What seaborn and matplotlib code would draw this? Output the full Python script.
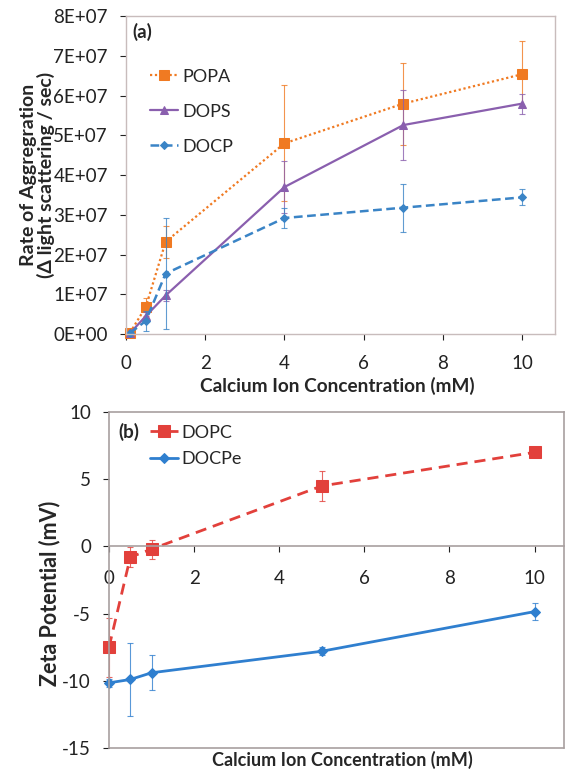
import numpy as np
import pandas as pd
import matplotlib
matplotlib.use('Agg')
import matplotlib.pyplot as plt
from matplotlib.ticker import FuncFormatter
import seaborn as sns

# Panel (a): rate of aggregation vs calcium
conc_a = [0.1, 0.5, 1, 4, 7, 10]
popa = [0.03e7, 0.68e7, 2.32e7, 4.8e7, 5.8e7, 6.54e7]
popa_err = [0.05e7, 0.22e7, 0.4e7, 1.46e7, 1.03e7, 0.83e7]
dops = [0.02e7, 0.45e7, 0.97e7, 3.7e7, 5.26e7, 5.8e7]
dops_err = [0.03e7, 0.1e7, 0.15e7, 0.66e7, 0.88e7, 0.25e7]
docp = [0.02e7, 0.33e7, 1.52e7, 2.92e7, 3.18e7, 3.44e7]
docp_err = [0.03e7, 0.25e7, 1.4e7, 0.24e7, 0.6e7, 0.2e7]

# Panel (b): zeta potential vs calcium
conc_b = [0, 0.5, 1, 5, 10]
dopc = [-7.5, -0.8, -0.2, 4.5, 7.0]
dopc_err = [2.2, 0.75, 0.7, 1.1, 0.25]
docpe = [-10.15, -9.9, -9.4, -7.8, -4.85]
docpe_err = [0.3, 2.7, 1.3, 0.3, 0.65]

sns.set_style('white')
plt.rcParams['font.family'] = ['Lato', 'DejaVu Sans']
plt.rcParams['axes.unicode_minus'] = False

fig = plt.figure(figsize=(5.69, 7.71), dpi=100)
ax1 = fig.add_axes([0.2214, 0.5668, 0.975 - 0.2214, 0.979 - 0.5668])
ax2 = fig.add_axes([0.1916, 0.0298, 0.991 - 0.1916, 0.4656 - 0.0298])

# (name, y, err, colour, linestyle, marker, markersize, linewidth)
series_a = [
    ('POPA', popa, popa_err, '#f07a22', (0, (1, 1.2)), 's', 7, 1.6),
    ('DOPS', dops, dops_err, '#8a5fae', '-', '^', 5.5, 1.6),
    ('DOCP', docp, docp_err, '#3a84c6', (0, (3.5, 1.8)), 'D', 4.5, 1.8),
]
for name, y, err, col, ls, mk, ms, lw in series_a:
    ax1.errorbar(conc_a, y, yerr=err, fmt='none', ecolor=col, elinewidth=0.8,
                 capsize=2, capthick=0.8, alpha=0.8, clip_on=False)
    sns.lineplot(x=conc_a, y=y, ax=ax1, color=col, linestyle=ls, marker=mk,
                 markersize=ms, markeredgecolor=col, linewidth=lw, label=name,
                 clip_on=False)

ax1.set_xlim(0, 10.82)
ax1.set_ylim(0, 8e7)
ax1.set_xticks([0, 2, 4, 6, 8, 10])
ax1.set_yticks(np.arange(0, 8.1e7, 1e7))
ax1.yaxis.set_major_formatter(FuncFormatter(
    lambda v, p: '0E+00' if v == 0 else '%dE+07' % round(v / 1e7)))
ax1.tick_params(axis='both', labelsize=13.5, colors='#222222', length=4,
                width=0.8, direction='out', left=True, bottom=True)
ax1.tick_params(axis='x', pad=11)
ax1.tick_params(axis='y', pad=9)
for sp in ax1.spines.values():
    sp.set_color('#c8bcbc')
    sp.set_linewidth(1.0)
ax1.set_xlabel('Calcium Ion Concentration (mM)', fontsize=13.7, fontweight='bold')
ax1.set_ylabel('Rate of Aggregration\n(Δ light scattering / sec)', fontsize=14,
               fontweight='bold', linespacing=1.0)
ax1.xaxis.set_label_coords(0.494, -0.135)
ax1.yaxis.set_label_coords(-0.165, 0.5)
ax1.text(0.015, 0.95, '(a)', transform=ax1.transAxes, fontsize=13.5,
         fontweight='bold', va='center', ha='left')
ax1.legend(loc='upper left', bbox_to_anchor=(0.04, 0.8575), frameon=False,
           fontsize=13, handlelength=1.55, handletextpad=0.22, labelspacing=1.05,
           borderaxespad=0)

series_b = [
    ('DOPC', dopc, dopc_err, '#e2403b', (0, (4, 2.5)), 's', 8, 2.0),
    ('DOCPe', docpe, docpe_err, '#2f7fcf', '-', 'D', 5.5, 2.0),
]
for name, y, err, col, ls, mk, ms, lw in series_b:
    ax2.errorbar(conc_b, y, yerr=err, fmt='none', ecolor=col, elinewidth=0.8,
                 capsize=2, capthick=0.8, alpha=0.8, clip_on=False)
    sns.lineplot(x=conc_b, y=y, ax=ax2, color=col, linestyle=ls, marker=mk,
                 markersize=ms, markeredgecolor=col, linewidth=lw, label=name,
                 clip_on=False)

ax2.set_xlim(0, 10.69)
ax2.set_ylim(-15, 10)
ax2.set_xticks([0, 2, 4, 6, 8, 10])
ax2.set_yticks([-15, -10, -5, 0, 5, 10])
ax2.spines['bottom'].set_position(('data', 0))
ax2.axhline(-15, color='#a8a0a0', linewidth=1.2, clip_on=False, zorder=0)
ax2.tick_params(axis='both', labelsize=13.5, colors='#222222', length=4,
                width=0.8, direction='out', left=True, bottom=True)
ax2.tick_params(axis='x', pad=13)
ax2.tick_params(axis='y', pad=9)
for sp in ax2.spines.values():
    sp.set_color('#a8a0a0')
    sp.set_linewidth(1.2)
ax2.set_xlabel('Calcium Ion Concentration (mM)', fontsize=13, fontweight='bold')
ax2.set_ylabel('Zeta Potential (mV)', fontsize=15.5, fontweight='bold')
ax2.xaxis.set_label_coords(0.514, -0.009)
ax2.yaxis.set_label_coords(-0.108, 0.46)
ax2.text(0.02, 0.94, '(b)', transform=ax2.transAxes, fontsize=13.5,
         fontweight='bold', va='center', ha='left')
ax2.legend(loc='upper left', bbox_to_anchor=(0.075, 0.984), frameon=False,
           fontsize=13, handlelength=1.55, handletextpad=0.15, labelspacing=0.6,
           borderaxespad=0)

fig.savefig('out.png', dpi=100)
